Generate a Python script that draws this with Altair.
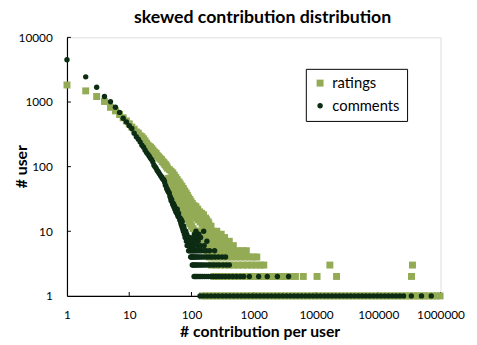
import altair as alt
import pandas as pd

# ---------------- data ----------------
x_ticks = [1, 10, 100, 1000, 10000, 100000, 1000000]
y_ticks = [1, 10, 100, 1000, 10000]

# ratings: # users for contribution counts k = 1..40
ratings_head = [1834, 1486, 1217, 1020, 828, 730, 641, 570, 510, 460,
                410, 380, 345, 330, 300, 290, 270, 250, 230, 215,
                205, 200, 190, 180, 170, 165, 160, 150, 145, 140,
                135, 130, 128, 120, 118, 115, 110, 108, 104, 100]
# ratings: mid range band (contribution count, # users)
ratings_mid_k = [41, 42, 43, 44, 45, 46, 47, 48, 49, 50,
                 51, 52, 53, 54, 55, 56, 57, 58, 59, 60,
                 62, 63, 64, 65, 66, 67, 68, 70, 71, 72,
                 74, 75, 76, 78, 79, 80, 82, 83, 84, 86,
                 87, 88, 90, 91, 92, 94, 95, 96, 98, 99,
                 100, 103, 105, 106, 110, 112, 114, 118, 120, 122,
                 126, 128, 130, 135, 138, 140, 145, 148, 150, 156,
                 159, 162, 168, 172, 175, 182, 186, 190, 198, 206]
ratings_mid_y = [95, 66, 45, 90, 62, 41, 85, 58, 38, 80,
                 55, 35, 74, 50, 32, 68, 47, 30, 63, 44,
                 28, 58, 41, 26, 54, 38, 24, 50, 35, 22,
                 46, 32, 20, 42, 29, 18, 39, 27, 16, 36,
                 25, 15, 33, 23, 14, 31, 21, 13, 29, 20,
                 12, 27, 18, 11, 25, 17, 10, 24, 16, 9,
                 22, 15, 10, 20, 14, 10, 19, 13, 9, 18,
                 12, 10, 16, 11, 15, 12, 14, 13, 11, 12]
# ratings: tail rows (# users -> contribution counts)
ratings_rows = {
    10: [130, 150, 172, 196, 225, 255],
    9: [140, 163, 190, 220, 255, 300],
    8: [150, 175, 204, 238, 280, 340],
    7: [158, 184, 214, 250, 292, 345, 405],
    6: [168, 197, 231, 271, 318, 377, 470],
    5: [180, 212, 250, 295, 348, 410, 480, 560, 660, 760],
    4: [195, 230, 270, 318, 375, 440, 520, 610, 720, 850, 990, 1120],
    3: [210, 248, 292, 345, 405, 478, 565, 665, 785, 925, 1090, 1280, 1450,
        16700, 355000],
    2: [230, 272, 320, 378, 445, 525, 620, 730, 860, 1015, 1200, 1415, 1670,
        1970, 2320, 2740, 3230, 3800, 4680, 6250, 10400, 21400, 342000],
    1: [150, 172, 196, 228, 260, 300, 345, 395, 455, 520, 600, 690, 790, 910,
        1045, 1200, 1380, 1590, 1830, 2100, 2420, 2780, 3200, 3680, 4230,
        4860, 5590, 6430, 7400, 8510, 9790, 11260, 12950, 14890, 17120,
        19690, 22640, 26040, 29950, 34440, 39600, 45540, 52370, 60230,
        69260, 79650, 91600, 105300, 121100, 139300, 160200, 184200, 211800,
        243600, 280100, 322100, 370400, 426000, 489900, 563400, 647900,
        745100, 856900, 985400],
}

# comments: # users for contribution counts k = 1..100
comments_head = [4500, 2450, 1690, 1220, 1010, 830, 690, 560, 490, 430,
                 390, 330, 290, 265, 240, 215, 200, 180, 165, 155,
                 145, 135, 128, 118, 105, 100, 95, 88, 84, 80,
                 76, 72, 70, 66, 64, 62, 58, 52, 50, 46,
                 44, 42, 40, 39, 35, 33, 30, 31, 28, 26,
                 27, 24, 25, 22, 23, 20, 22, 19, 22, 18,
                 17, 19, 17, 16, 15, 16, 14, 13, 15, 12,
                 14, 11, 12, 10, 12, 11, 9, 10, 8, 9,
                 10, 8, 7, 9, 6, 8, 7, 6, 7, 5,
                 7, 6, 5, 8, 6, 7, 4, 5, 6, 4]
comments_rows = {
    10: [118, 157],
    9: [112, 131],
    8: [108, 121, 140],
    7: [103, 115, 128, 177],
    6: [105, 110, 125, 140, 160],
    5: [102, 106, 111, 116, 122, 129, 137, 146, 158, 172, 195, 235],
    4: [101, 104, 108, 113, 118, 124, 131, 139, 149, 161, 175, 192, 212, 238,
        270, 310, 353],
    3: [103, 107, 112, 117, 123, 130, 138, 147, 158, 171, 186, 204, 225, 250,
        280, 320, 360, 405],
    2: [110, 115, 120, 126, 133, 141, 150, 161, 173, 187, 204, 224, 248, 276,
        310, 350, 400, 460, 530, 610, 690, 850, 1200, 1650, 2400, 3630],
    1: [137, 155, 178, 205, 236, 270, 312, 358, 412, 474, 545, 627, 721, 829,
        953, 1096, 1260, 1450, 1667, 1917, 2205, 2535, 2916, 3353, 3856,
        4434, 5100, 5865, 6744, 7756, 8919, 10260, 11800, 13570, 15600,
        17940, 20630, 23730, 27280, 31380, 36080, 41500, 47720, 54880,
        63110, 72580, 83460, 95980, 110400, 126900, 146000, 167900, 193000,
        222000, 255300, 340000, 495000, 710000],
}

series = ["ratings", "comments"]
colors = ["#93AB55", "#0C2C13"]

# ---------------- build table ----------------
rows = []
for i, v in enumerate(ratings_head):
    rows.append(("ratings", i + 1, v))
for k, v in zip(ratings_mid_k, ratings_mid_y):
    rows.append(("ratings", k, v))
for u, ks in ratings_rows.items():
    for k in ks:
        rows.append(("ratings", k, u))
for i, v in enumerate(comments_head):
    rows.append(("comments", i + 1, v))
for u, ks in comments_rows.items():
    for k in ks:
        rows.append(("comments", k, u))
df = pd.DataFrame(rows, columns=["series", "k", "users"])

FONT = "Lato"
xs = alt.Scale(type="log", domain=[1, 1000000], nice=False)
ys = alt.Scale(type="log", domain=[1, 10000], nice=False)

x_axis = alt.Axis(values=x_ticks, format="d", title="# contribution per user",
                  grid=False, ticks=False, tickSize=0, domainColor="black",
                  domainWidth=1.2, labelColor="black", labelFont=FONT,
                  labelFontSize=12, labelPadding=14, labelFlush=False,
                  titleFont=FONT, titleFontSize=16, titleFontWeight="bold",
                  titleColor="black", titleX=196, titleY=36,
                  titleBaseline="middle", titleAlign="center")
y_axis = alt.Axis(values=y_ticks, format="d", title="# user",
                  grid=False, ticks=False, tickSize=0, domainColor="black",
                  domainWidth=1.2, labelColor="black", labelFont=FONT,
                  labelFontSize=12, labelPadding=15, labelFlush=False,
                  titleFont=FONT, titleFontSize=16, titleFontWeight="bold",
                  titleColor="black", titleX=-46, titleY=131, titleAngle=270,
                  titleBaseline="middle", titleAlign="center")

W, H = 380, 263

leg = alt.Legend(title=None, orient="none", legendX=243, legendY=32,
                 strokeColor="black", fillColor="white", padding=7,
                 rowPadding=7, labelFont=FONT, labelFontSize=15,
                 labelColor="black", labelOffset=5, symbolStrokeWidth=0)

points = alt.Chart(df).mark_point(filled=True, opacity=1, strokeWidth=0).encode(
    x=alt.X("k:Q", scale=xs, axis=x_axis),
    y=alt.Y("users:Q", scale=ys, axis=y_axis),
    color=alt.Color("series:N", scale=alt.Scale(domain=series, range=colors),
                    legend=leg),
    shape=alt.Shape("series:N", scale=alt.Scale(domain=series,
                    range=["square", "circle"]), legend=leg),
    size=alt.Size("series:N", scale=alt.Scale(domain=series, range=[50, 30]),
                  legend=leg),
)

xt = alt.Chart(pd.DataFrame({"k": x_ticks[1:]})).mark_rule(
    color="black", strokeWidth=1).encode(
    x=alt.X("k:Q", scale=xs, axis=x_axis),
    y=alt.value(H), y2=alt.value(H - 4))
yt = alt.Chart(pd.DataFrame({"users": y_ticks[1:]})).mark_rule(
    color="black", strokeWidth=1).encode(
    y=alt.Y("users:Q", scale=ys, axis=y_axis),
    x=alt.value(0), x2=alt.value(4))

chart = alt.layer(xt, yt, points).properties(
    width=W, height=H,
    autosize=alt.AutoSizeParams(type="none"),
    padding={"left": 60, "top": 27, "right": 29, "bottom": 44},
    title=alt.TitleParams("skewed contribution distribution", font=FONT,
                          fontSize=18, fontWeight="bold", color="black",
                          anchor="middle", frame="group", dx=9, offset=5),
).configure_view(stroke=None).configure(background="white")

chart.save("out.html", embed_options={"renderer": "svg", "actions": False})
